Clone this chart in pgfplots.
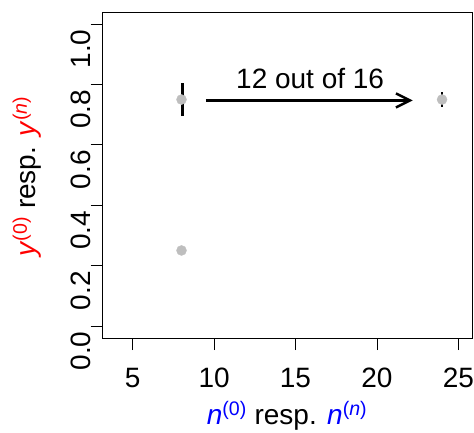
\documentclass[border=0pt]{standalone}
\usepackage{fontspec}
\setmainfont{Liberation Sans}
\usepackage{pgfplots}
\pgfplotsset{compat=1.18}
\usetikzlibrary{arrows.meta}
\definecolor{rgrey}{RGB}{190,190,190}
\begin{document}
\begin{tikzpicture}[x=1pt,y=1pt]
\useasboundingbox (-102.7,-94) rectangle (371.3,338);
\begin{axis}[at={(0,0)}, anchor=south west, scale only axis,
  width=369.3pt, height=326pt,
  xmin=3.16, xmax=25.84, ymin=-0.04, ymax=1.04,
  xtick={5,10,15,20,25}, ytick={0,0.2,0.4,0.6,0.8,1.0},
  xtick pos=bottom, ytick pos=left,
  tick align=outside, major tick length=12pt,
  every tick/.style={black, line width=0.8pt},
  axis line style={line width=0.8pt},
  /pgf/number format/assume math mode=true,
  ticklabel style={font=\fontsize{28}{28}\selectfont, inner sep=0pt},
  yticklabel style={rotate=90, anchor=south, /pgf/number format/fixed, /pgf/number format/precision=1, /pgf/number format/fixed zerofill, xshift=-25pt},
  xticklabel style={anchor=north, yshift=-18pt},
  clip=false]
\addplot[only marks, mark=*, mark size=5pt, color=rgrey] coordinates {(8,0.75) (8,0.25) (24,0.75)};
\addplot[black, line width=2.6pt] coordinates {(8.05,0.695) (8.05,0.805)};
\addplot[black, line width=2.6pt] coordinates {(24,0.726) (24,0.774)};
\addplot[black, line width=2.5pt, -{Straight Barb[length=14pt,width=14pt,line width=2.5pt]}] coordinates {(9.5,0.747) (22.2,0.747)};
\node[font=\fontsize{28}{28}\selectfont, inner sep=0pt] at (axis cs:15.9,0.82) {12 out of 16};
\end{axis}
\node[rotate=90, anchor=base, inner sep=0pt, font=\fontsize{28}{28}\selectfont] at (-66.7,161.5) {\textcolor{red}{\textit{y}\textsuperscript{(0)}} resp. \textcolor{red}{\textit{y}\textsuperscript{(\textit{n})}}};
\node[anchor=base, inner sep=0pt, font=\fontsize{28}{28}\selectfont] at (184.3,-86.5) {\textcolor{blue}{\textit{n}\textsuperscript{(0)}} resp. \textcolor{blue}{\textit{n}\textsuperscript{(\textit{n})}}};
\end{tikzpicture}
\end{document}
